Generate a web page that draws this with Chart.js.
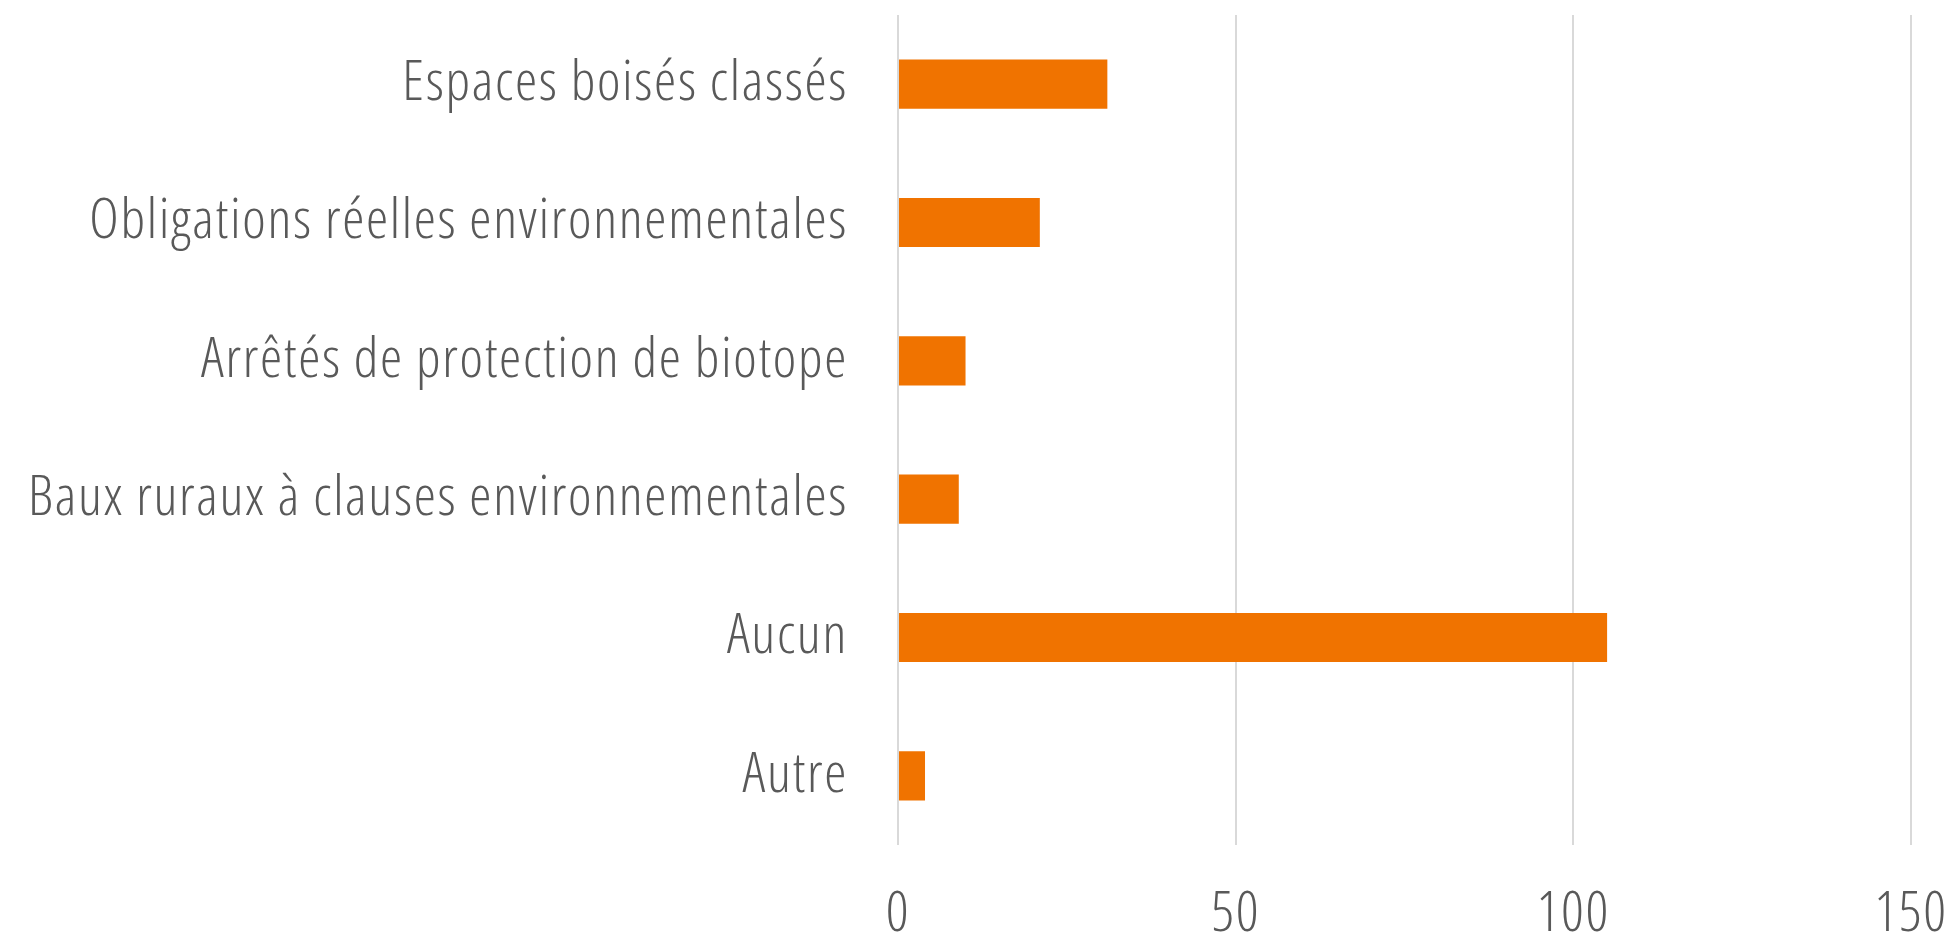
<!DOCTYPE html>
<html>
<head>
<meta charset="utf-8">
<script src="https://cdn.jsdelivr.net/npm/chart.js@4"></script>
<style>
    html, body { margin: 0; padding: 0; background: #fff; }
    #wrap { width: 1947px; height: 943px; }
</style>
</head>
<body>
<div id="wrap"><canvas id="ChartBar"></canvas></div>
<script>
const categories = [
    'Espaces boisés classés',
    'Obligations réelles environnementales',
    'Arrêtés de protection de biotope',
    'Baux ruraux à clauses environnementales',
    'Aucun',
    'Autre'
];
const values = [31, 21, 10, 9, 105, 4];
const xTicks = [0, 50, 100, 150];

const fontFamily = '"Open Sans", "DejaVu Sans Condensed", sans-serif';
const fontWeight = '300 condensed';
const fontSize = 56;

function noPadding(scale) {
    scale.paddingLeft = 0;
    scale.paddingRight = 0;
    scale.paddingTop = 0;
    scale.paddingBottom = 0;
}

// the reference text is a bit more loosely spaced than Open Sans condensed
const letterSpacing = {
    id: 'letterSpacing',
    beforeLayout(chart) {
        chart.ctx.letterSpacing = '1.7px';
    },
    beforeDraw(chart) {
        chart.ctx.letterSpacing = '1.7px';
    }
};

const chartBar = document.getElementById('ChartBar');
new Chart(chartBar, {
    type: 'bar',
    data: {
        labels: categories,
        datasets: [{
            data: values,
            backgroundColor: '#F07300',
            categoryPercentage: 1,
            barPercentage: 0.355
        }]
    },
    options: {
        indexAxis: 'y',
        responsive: true,
        maintainAspectRatio: false,
        animation: false,
        layout: {
            padding: {top: 15, right: 36, bottom: 0, left: 0}
        },
        plugins: {
            legend: {display: false},
            tooltip: {enabled: false}
        },
        scales: {
            x: {
                min: 0,
                max: 150,
                afterBuildTicks: scale => {
                    scale.ticks = xTicks.map(v => ({value: v}));
                },
                afterFit: scale => {
                    scale.height = 98;
                    noPadding(scale);
                },
                grid: {
                    color: '#d9d9d9',
                    lineWidth: 2,
                    drawTicks: false
                },
                border: {display: false},
                ticks: {
                    color: '#595959',
                    maxRotation: 0,
                    padding: 36,
                    font: {family: fontFamily, weight: fontWeight, size: fontSize}
                }
            },
            y: {
                afterFit: scale => {
                    scale.width = 898;
                    noPadding(scale);
                },
                grid: {display: false, drawTicks: false},
                border: {display: false},
                ticks: {
                    color: '#595959',
                    padding: 50,
                    font: {family: fontFamily, weight: fontWeight, size: fontSize}
                }
            }
        }
    },
    plugins: [letterSpacing]
});
</script>
</body>
</html>
